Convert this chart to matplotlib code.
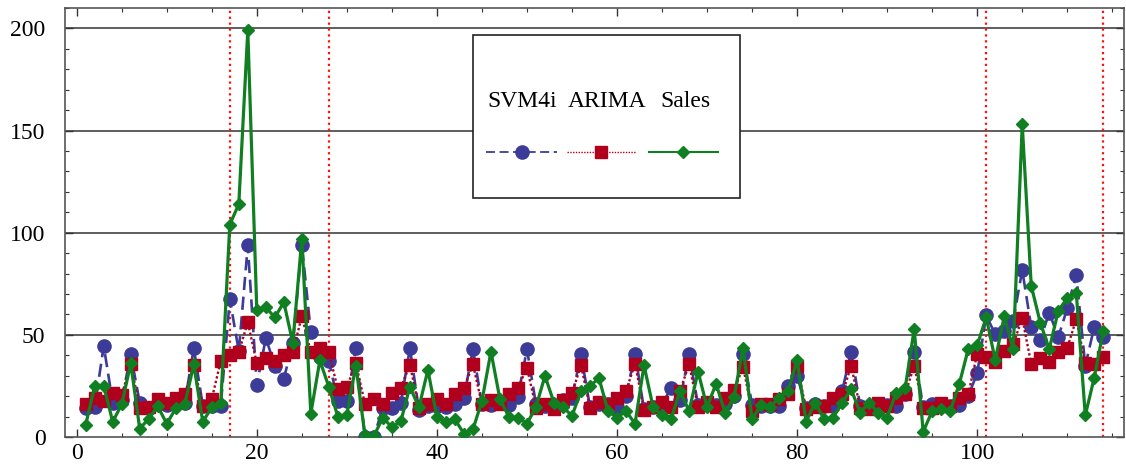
import matplotlib
matplotlib.use("Agg")
import matplotlib.pyplot as plt
from matplotlib.patches import Rectangle
from matplotlib.ticker import MultipleLocator

plt.rcParams['font.family'] = ['Liberation Serif', 'DejaVu Serif']

# weekly index
weeks = list(range(1, 115))

sales = [6, 25, 25, 7.5, 16, 36, 4, 9, 15, 6.5, 14, 16, 35.5, 7.5, 14.5, 16.5,
         104, 114, 199, 62, 63.5, 58.5, 66, 46, 97, 11.5, 37.5, 24.5, 10, 11,
         35, 1, 0.5, 9.5, 4.7, 7.8, 24.6, 14.5, 32.8, 9.8, 7.5, 8.7, 1.6, 3.7,
         17.6, 41.8, 18.5, 9.8, 9.5, 6.5, 14.7, 29.9, 16.8, 14.7, 10.3, 22.5,
         25, 28.8, 12.7, 9.5, 12.7, 6.5, 35.1, 14.7, 10.6, 8.7, 22.5, 12.7, 32,
         14.7, 26.1, 11.9, 19.6, 43.8, 8.7, 15.7, 14.7, 19.3, 22.5, 37.6, 7.5,
         16.8, 8.7, 9.5, 16.8, 23.4, 11.9, 16.8, 11.9, 9.5, 21.7, 23.9, 52.8,
         2.6, 12.7, 13.6, 12.7, 25.8, 43, 45, 58.5, 37.7, 59, 43, 153, 74, 56,
         43, 61.8, 68, 70.7, 10.6, 29.1, 52]

svm4i = [14, 14.7, 44.6, 16.8, 18, 40.5, 16.8, 14.4, 16, 15.5, 16.3, 16.8, 43.5,
         15.4, 15.4, 15.4, 67.5, 42, 93.8, 25.4, 48.4, 35, 28.5, 46, 94, 51.3,
         39, 37.3, 17.4, 17.4, 43.6, 0, 0, 14.4, 14.4, 16.8, 43.5, 13.4, 15.2,
         15.2, 14.7, 16, 19.3, 43, 16, 15.7, 16.8, 15.7, 19.8, 43, 16, 15, 14,
         18.1, 19.3, 40.5, 14.7, 16, 16.3, 14.7, 20.1, 40.8, 13.6, 14.7, 15.7,
         24.2, 18, 40.8, 15.7, 16, 15.7, 16, 20.1, 40.8, 15.7, 15.2, 15.2, 15.2,
         25, 29.9, 14.4, 16.3, 15.2, 15.2, 22.5, 41.8, 15.2, 14.7, 16.3, 15.7,
         15.2, 21.2, 41.8, 14.7, 16.3, 15.7, 15.2, 15.7, 20.1, 31.2, 59.5, 50.3,
         51.8, 57, 81.7, 53.8, 47.6, 60.9, 48.8, 63.1, 79.3, 34.8, 53.9, 49]

arima = [16, 19, 17.6, 21.3, 20.6, 35.6, 14.4, 14.9, 18.5, 16.4, 19.3, 20.9, 35.2,
         15, 18.6, 37.3, 40, 41.5, 56.2, 36, 38.8, 37.3, 40, 41.5, 59.2, 41.5,
         43.8, 41.5, 23.4, 24.4, 36.2, 16.3, 18.6, 16.3, 21.3, 24.2, 35.4, 14.4,
         16, 18.8, 16, 20.9, 23.9, 35.6, 16, 18.1, 16, 20.9, 23.9, 34, 14.4, 16,
         13.6, 18.1, 21.4, 35.1, 14.4, 17.2, 16, 19, 22.5, 35.9, 13.2, 14.7,
         17.2, 14.7, 22.5, 35.6, 14.7, 17.2, 14.7, 19.3, 22.9, 34.3, 12.7, 16.2,
         16, 18.5, 20.9, 34.8, 13.6, 14.7, 15.2, 19.3, 20.9, 34.8, 14.4, 13.6,
         16.8, 15.2, 19.3, 21.2, 34.8, 14.4, 14.4, 16.8, 15.2, 19.3, 20.9, 40.8,
         39.2, 36.6, 42.2, 45.4, 58.2, 35.7, 38.8, 36.6, 41.4, 43.6, 57.7, 36,
         35.7, 39]

# period boundaries
breaks = [17, 28, 101, 114]

blue = '#3d3b98'
red = '#b0001e'
green = '#0f7f22'

fig = plt.figure(figsize=(11.26, 4.7), dpi=100)
ax = fig.add_axes([65 / 1126, 1 - 437 / 470, 1059 / 1126, 429 / 470])

for b in breaks:
    ax.axvline(b, color='#ff1010', linestyle=':', linewidth=1.6, zorder=2)

for yv in [50, 100, 150, 200]:
    ax.axhline(yv, color='#333333', linewidth=1.1, zorder=1)

ax.plot(weeks, svm4i, color=blue, linestyle=(0, (5, 2.5)), linewidth=1.9,
        marker='o', markersize=9.5, zorder=3)
ax.plot(weeks, arima, color=red, linestyle=(0, (1, 1)), linewidth=1.7,
        marker='s', markersize=9, zorder=4)
ax.plot(weeks, sales, color=green, linestyle='-', linewidth=2.3,
        marker='D', markersize=6.5, zorder=5)

ax.set_xlim(-1.3, 116.3)
ax.set_ylim(0, 210)
ax.xaxis.set_major_locator(MultipleLocator(20))
ax.xaxis.set_minor_locator(MultipleLocator(5))
ax.yaxis.set_major_locator(MultipleLocator(50))
ax.yaxis.set_minor_locator(MultipleLocator(10))
ax.tick_params(which='both', direction='in', top=True, right=True,
               colors='#333333', labelcolor='black', labelsize=17)
ax.tick_params(which='major', length=6, width=1)
ax.tick_params(which='minor', length=3, width=0.8)
ax.tick_params(axis='y', which='major', pad=14)
ax.tick_params(axis='x', which='major', pad=4)
for s in ax.spines.values():
    s.set_color('#555555')
    s.set_linewidth(1.2)

# legend box with labels above the line samples
ax.add_patch(Rectangle((0.385, 0.557), 0.252, 0.38, transform=ax.transAxes,
                       facecolor='white', edgecolor='#222222', linewidth=1.2,
                       zorder=10))
entries = [('SVM4i', blue, (0, (5, 2.5)), 'o', 9.5, 1.3, 0.398, 0.465, 0.432),
           ('ARIMA', red, (0, (1, 1)), 's', 9, 1.0, 0.474, 0.539, 0.512),
           ('Sales', green, '-', 'D', 6.5, 1.5, 0.551, 0.617, 0.586)]
for label, c, ls, mk, ms, lw, x0, x1, xt in entries:
    ax.text(xt, 0.783, label, transform=ax.transAxes, ha='center',
            va='center', fontsize=17, zorder=11)
    ax.plot([x0, x1], [0.664, 0.664], transform=ax.transAxes, color=c,
            linestyle=ls, linewidth=lw, clip_on=False, zorder=11)
    ax.plot([(x0 + x1) / 2], [0.664], transform=ax.transAxes, color=c,
            marker=mk, markersize=ms, linestyle='none', clip_on=False, zorder=12)

fig.savefig('out.png', dpi=100)
